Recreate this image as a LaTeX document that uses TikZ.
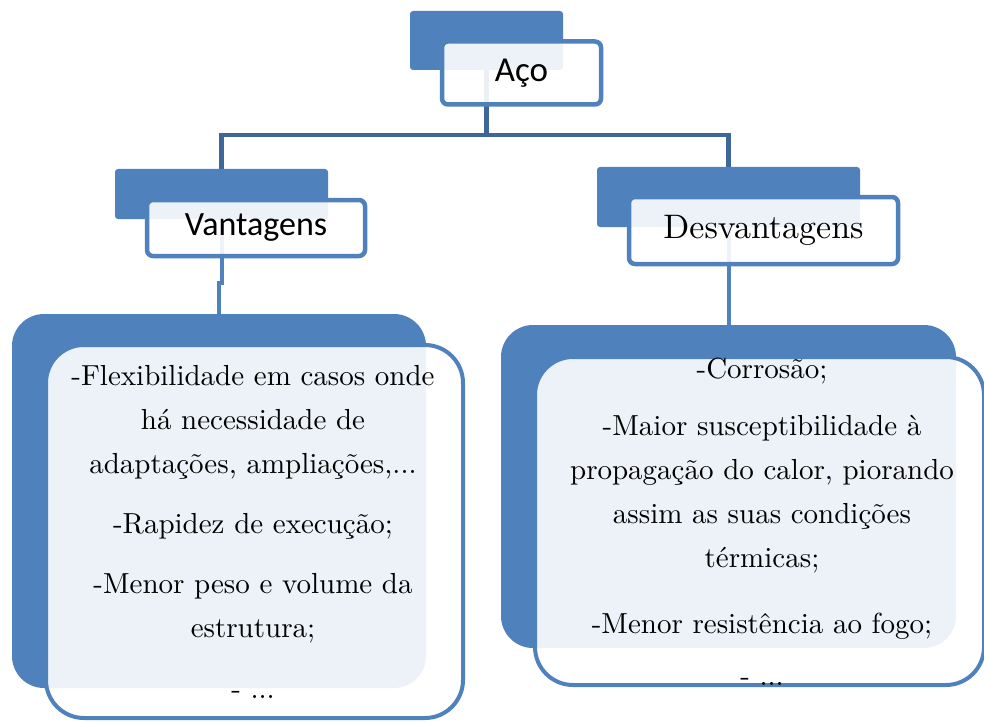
\documentclass[tikz,border=0pt]{standalone}
\usepackage{fontspec}
\usepackage{xcolor}
\usepackage{tikz}
\usetikzlibrary{backgrounds}

\newfontfamily\calibrifont{Carlito}
\newfontfamily\lmtenfont{lmroman10-regular.otf}
\definecolor{officeblue}{HTML}{4F81BD}
\definecolor{linkblue}{HTML}{3F6699}

\begin{document}
\begin{tikzpicture}[x=1pt, y=-1pt,
    backbox/.style={fill=officeblue, rounded corners=3pt, inner sep=0pt},
    frontbox/.style={draw=officeblue, line width=4.5pt, fill=white, fill opacity=0.9,
        text opacity=1, rounded corners=6pt, inner sep=0pt},
    bigback/.style={backbox, rounded corners=32pt},
    bigfront/.style={frontbox, line width=4pt, rounded corners=38pt},
    toplink/.style={draw=linkblue, line width=4.5pt},
    sublink/.style={draw=officeblue, line width=4pt},
    bodytext/.style={align=center, inner sep=0pt, font=\lmtenfont\fontsize{29}{44}\selectfont}]
    \useasboundingbox (0,0) rectangle (984,722);
    \clip (0,0) rectangle (984,722);

    % Top node
    \node[backbox, minimum width=153pt, minimum height=59pt] (acoB) at (486.5,40.5) {};
    \node[frontbox, minimum width=159pt, minimum height=63pt,
        font=\calibrifont\fontsize{35}{40}\selectfont] (aco) at (521.5,73) {Aço};

    % Left branch
    \node[backbox, minimum width=213pt, minimum height=50pt] (vantB) at (221.5,194) {};
    \node[frontbox, minimum width=218pt, minimum height=56pt,
        font=\calibrifont\fontsize{34}{40}\selectfont] (vant) at (256,228) {Vantagens};

    % Right branch
    \node[backbox, minimum width=263pt, minimum height=60pt] (desvB) at (728.5,197) {};
    \node[frontbox, minimum width=269pt, minimum height=67pt,
        font=\lmtenfont\fontsize{34}{40}\selectfont] (desv) at (763.5,230.5) {Desvantagens};

    % Left list
    \node[bigback, minimum width=414pt, minimum height=374pt] (vantListB) at (219,501) {};
    \node[bigfront, minimum width=417pt, minimum height=373pt] (vantList) at (254.5,531.5) {};
    \node[bodytext, anchor=north] (vantTxt) at (253,365) {-Flexibilidade em casos onde\\
        há necessidade de\\ adaptações, ampliações,...\\[16pt]
        -Rapidez de execução;\\[16pt]
        -Menor peso e volume da\\ estrutura;\\[17pt]
        - ...};

    % Right list
    \node[bigback, minimum width=455pt, minimum height=323pt] (desvListB) at (728.5,486.5) {};
    \node[bigfront, minimum width=449pt, minimum height=328pt] (desvList) at (759.5,521) {};
    \begin{scope}
        \clip[rounded corners=36pt] (531,350) rectangle (990,684);
        \node[bodytext, anchor=north] (desvTxt) at (762,357.5) {-Corrosão;\\[13pt]
            -Maior susceptibilidade à\\ propagação do calor, piorando\\
            assim as suas condições\\ térmicas;\\[22pt]
            -Menor resistência ao fogo;\\[8pt]
            - ...};
    \end{scope}

    % Connectors
    \begin{scope}[on background layer]
        \coordinate (split) at (486.5,135);
        \draw[toplink] (acoB) -- (split);
        \draw[toplink] (split) -| (vantB);
        \draw[toplink] (split) -| (desvB);
        \draw[sublink] (vantB.south) -- ++(0,64) -| (vantListB.north);
        \draw[sublink] (desvB) -- (desvListB);
    \end{scope}
\end{tikzpicture}
\end{document}
